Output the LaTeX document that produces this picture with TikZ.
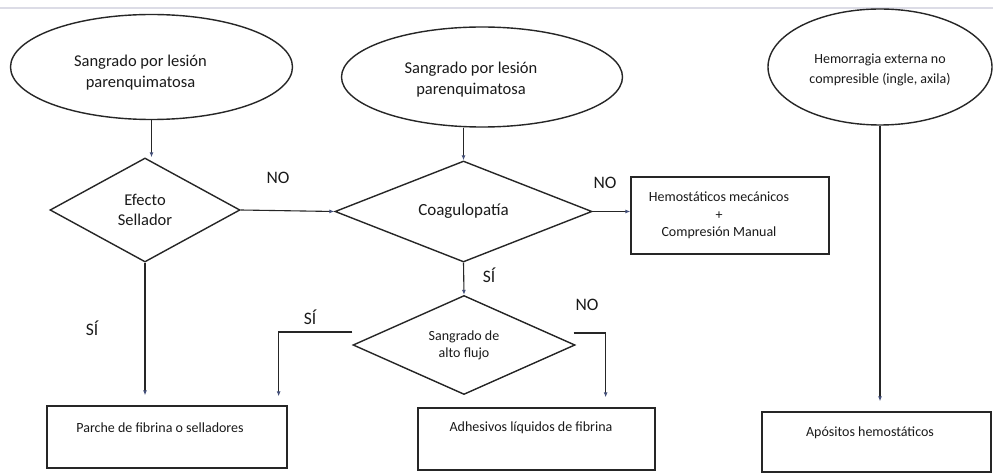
\documentclass[tikz,border=0pt]{standalone}
\usepackage{fontspec}
\setmainfont{Carlito}
\usetikzlibrary{shapes.geometric,arrows.meta}
\definecolor{ln}{HTML}{262626}
\definecolor{tipc}{HTML}{44507A}
\definecolor{txt}{HTML}{1A1A1A}
\definecolor{faint}{HTML}{DCDCE6}
\tikzset{
  base/.style={draw=ln, line width=1.4pt, inner sep=0pt, text=txt},
  oval/.style={base, ellipse},
  decision/.style={base, diamond, shape aspect=2.5, align=center},
  box/.style={base, rectangle, line width=1.3pt},
  conn/.style={draw=ln, line width=1.1pt, -{Latex[length=5pt,width=4pt,color=tipc]}},
  bigtxt/.style={font=\fontsize{16.5}{21}\selectfont},
  smalltxt/.style={font=\fontsize{14}{17.5}\selectfont},
  tlab/.style={text=txt, inner sep=0pt, align=center},
  ans/.style={text=txt, font=\fontsize{17.5}{20}\selectfont, inner sep=0pt},
}
\begin{document}
\begin{tikzpicture}[x=1pt,y=-1pt]
\useasboundingbox[fill=white] (0,0) rectangle (993,473);
\draw[faint, line width=1.5pt] (0,8) -- (993,8);

% ellipses
\node[oval, minimum width=282pt, minimum height=105pt,
  label={[tlab,bigtxt,xshift=-11pt,yshift=-5.5pt]center:{Sangrado por lesión\\parenquimatosa}}] (e1) at (151.5,67) {};
\node[oval, minimum width=281pt, minimum height=100pt,
  label={[tlab,bigtxt,xshift=-11pt,yshift=-3pt]center:{Sangrado por lesión\\parenquimatosa}}] (e2) at (482,77) {};
\node[oval, minimum width=224pt, minimum height=116pt,
  label={[tlab,font=\fontsize{14}{20}\selectfont,yshift=-3pt]center:{Hemorragia externa no\\compresible (ingle, axila)}}] (e3) at (880,67) {};

% decisions
\node[decision, font=\fontsize{16.5}{20}\selectfont, minimum width=190pt, minimum height=104pt] (d1) at (145,210) {Efecto\\Sellador};
\node[decision, font=\fontsize{17}{20}\selectfont, minimum width=257pt, minimum height=101pt] (d2) at (463.5,211.5) {Coagulopatía};
\node[decision, font=\fontsize{14}{17}\selectfont, minimum width=222pt, minimum height=99pt] (d3) at (464,345) {Sangrado de\\alto flujo};

% boxes
\node[box, minimum width=198pt, minimum height=77pt,
  label={[tlab,smalltxt,xshift=-11pt]center:{Hemostáticos mecánicos\\+\\Compresión Manual}}] (h1) at (730,215.5) {};
\node[box, minimum width=240pt, minimum height=62pt,
  label={[tlab,smalltxt,xshift=-7pt,yshift=9pt]center:{Parche de fibrina o selladores}}] (pb) at (167,437) {};
\node[box, minimum width=237pt, minimum height=62pt,
  label={[tlab,smalltxt,xshift=-5.5pt,yshift=11pt]center:{Adhesivos líquidos de fibrina}}] (ad) at (536.5,439) {};
\node[box, minimum width=229pt, minimum height=60pt,
  label={[tlab,smalltxt,xshift=-6.5pt,yshift=9pt]center:{Apósitos hemostáticos}}] (ap) at (876.5,442) {};

% answer labels
\node[ans] (no1) at (278,178) {NO};
\node[ans] (no2) at (605,183) {NO};
\node[ans] (si1) at (489,275) {SÍ};
\node[ans] (si2) at (310,317) {SÍ};
\node[ans] (no3) at (587,305) {NO};
\node[ans] (si3) at (92,328) {SÍ};

% connectors
\draw[conn] (e1.south) -- (e1.south |- d1.north);
\draw[conn] (d1.east) -- (d2.west);
\draw[conn] (d2.north |- e2.south) -- (d2.north);
\draw[conn] (d2.east) -- (d2.east -| h1.west);
\draw[conn] (d2.south) -- (d3.north);
\draw[conn, shorten >=10pt] (d1.south) -- (d1.south |- pb.north);
\draw[conn, shorten >=9pt] ([yshift=13pt]d3.west) -| ([xshift=-9pt]pb.north east);
\draw[conn, shorten >=10pt] ([xshift=-2pt,yshift=12pt]d3.east) -| ([xshift=-50pt]ad.north east);
\draw[conn, shorten >=10pt] (e3.south) -- (e3.south |- ap.north);
\end{tikzpicture}
\end{document}
